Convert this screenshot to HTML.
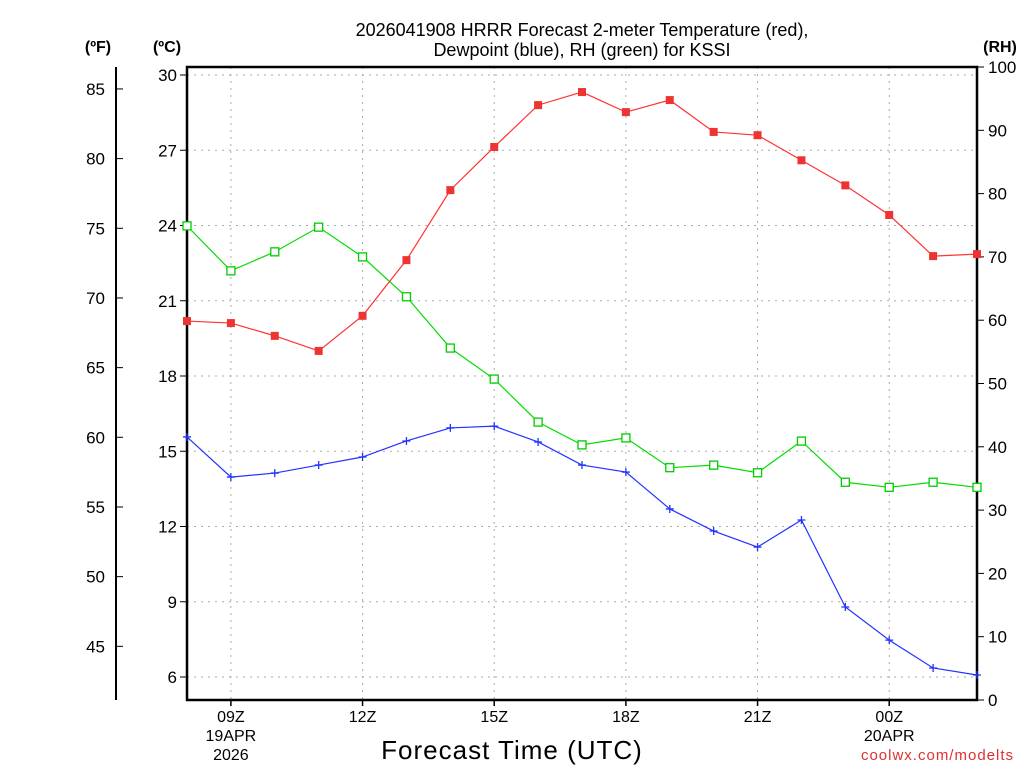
<!DOCTYPE html>
<html><head><meta charset="utf-8"><style>
html,body{margin:0;padding:0;background:#fff;}
svg{display:block;font-family:"Liberation Sans",sans-serif;}
</style></head><body>
<svg id="chart" width="1024" height="768" viewBox="0 0 1024 768" xmlns="http://www.w3.org/2000/svg">
<rect width="1024" height="768" fill="#fff"/>
<text x="582" y="36" font-size="18" text-anchor="middle">2026041908 HRRR Forecast 2-meter Temperature (red),</text>
<text x="582" y="56" font-size="18" text-anchor="middle">Dewpoint (blue), RH (green) for KSSI</text>
<text x="98" y="52" font-size="16" font-weight="bold" text-anchor="middle">(ºF)</text>
<text x="167" y="52" font-size="16" font-weight="bold" text-anchor="middle">(ºC)</text>
<text x="1000" y="52" font-size="16" font-weight="bold" text-anchor="middle">(RH)</text>
<text x="512" y="759" font-size="26" text-anchor="middle" letter-spacing="1">Forecast Time (UTC)</text>
<text x="1014" y="760" font-size="15" fill="#e03030" text-anchor="end" letter-spacing="1">coolwx.com/modelts</text>
<g id="grid"></g><g id="axes"></g><g id="series"></g>
</svg>
<script>
const hours = [8,9,10,11,12,13,14,15,16,17,18,19,20,21,22,23,24,25,26];
const tempC = [20.19,20.11,19.6,19.0,20.4,22.62,25.41,27.13,28.8,29.32,28.52,29.0,27.73,27.6,26.6,25.6,24.42,22.78,22.86];
const dewC = [15.57,13.97,14.13,14.45,14.77,15.41,15.93,16.0,15.37,14.45,14.17,12.7,11.82,11.18,12.26,8.79,7.47,6.36,6.08];
const rh = [74.9,67.8,70.8,74.7,70.0,63.7,55.6,50.7,43.9,40.3,41.4,36.7,37.1,35.9,40.9,34.4,33.6,34.4,33.6];
const cTicks = [6,9,12,15,18,21,24,27,30];
const fTicks = [45,50,55,60,65,70,75,80,85];
const rhTicks = [0,10,20,30,40,50,60,70,80,90,100];
const xTickHours = [9,12,15,18,21,24];
const xTickLabels = [["09Z","19APR","2026"],["12Z"],["15Z"],["18Z"],["21Z"],["00Z","20APR"]];

const L=187,R=977,T=67,B=700;
const xs=h=>L+(h-8)*(R-L)/18;
const yc=c=>75+(30-c)*(602/24);
const yf=f=>yc((f-32)*5/9);
const yr=r=>B-r*(B-T)/100;
const NS="http://www.w3.org/2000/svg";
function mk(parent,tag,attrs,text){const e=document.createElementNS(NS,tag);for(const k in attrs)e.setAttribute(k,attrs[k]);if(text!==undefined)e.textContent=text;parent.appendChild(e);return e;}
const grid=document.getElementById('grid'),axes=document.getElementById('axes'),series=document.getElementById('series');

xTickHours.forEach((h,i)=>{
  const g=mk(grid,'line',{x1:xs(h),x2:xs(h),y1:T,y2:B,stroke:'#aaa','stroke-dasharray':'2,5'});
  
  
  const t=mk(axes,'line',{x1:xs(h),x2:xs(h),y1:B,y2:B+6,stroke:'#000','stroke-width':1.5});
  
  
  xTickLabels[i].forEach((s,j)=>{
    const lb=mk(axes,'text',{x:xs(h),y:722+j*19,'font-size':16,'text-anchor':'middle'},s);
    
    
  });
});
cTicks.forEach(c=>{
  const g=mk(grid,'line',{x1:L,x2:R,y1:yc(c),y2:yc(c),stroke:'#aaa','stroke-dasharray':'2,5'});
  
  
  const t=mk(axes,'line',{x1:L-7,x2:L,y1:yc(c),y2:yc(c),stroke:'#000'});
  
  
  const lb=mk(axes,'text',{x:L-10,y:yc(c)+6,'font-size':17,'text-anchor':'end'},String(c));
  
  
});
fTicks.forEach(f=>{
  const t=mk(axes,'line',{x1:116,x2:123,y1:yf(f),y2:yf(f),stroke:'#000'});
  
  
  const lb=mk(axes,'text',{x:105,y:yf(f)+6,'font-size':17,'text-anchor':'end'},String(f));
  
  
});
rhTicks.forEach(r=>{
  const t=mk(axes,'line',{x1:R,x2:R+7,y1:yr(r),y2:yr(r),stroke:'#000'});
  
  
  const lb=mk(axes,'text',{x:R+11,y:yr(r)+6,'font-size':17,'text-anchor':'start'},String(r));
  
  
});
const fAxis=mk(axes,'line',{x1:116,x2:116,y1:T,y2:B,stroke:'#000','stroke-width':2});


const frame=mk(axes,'rect',{x:L,y:T,width:R-L,height:B-T,fill:'none',stroke:'#000','stroke-width':2.5});



function line(vals,yfn,color,name){
  const pts=vals.map((v,i)=>xs(hours[i])+','+yfn(v)).join(' ');
  const p=mk(series,'polyline',{points:pts,fill:'none',stroke:color,'stroke-width':1.2});
  
  
}
line(rh,yr,'#00dd00','rh');
line(dewC,yc,'#2233ff','dewpoint');
line(tempC,yc,'#ff3333','temperature');
rh.forEach((v,i)=>{
  const m=mk(series,'rect',{x:xs(hours[i])-4,y:yr(v)-4,width:8,height:8,fill:'#fff',stroke:'#00cc00','stroke-width':1.3});
  
  
});
dewC.forEach((v,i)=>{
  const x=xs(hours[i]),y=yc(v);
  const m=mk(series,'path',{d:`M${x-4},${y}H${x+4}M${x},${y-4}V${y+4}`,stroke:'#2233ff','stroke-width':1.3});
  
  
});
tempC.forEach((v,i)=>{
  const m=mk(series,'rect',{x:xs(hours[i])-4,y:yc(v)-4,width:8,height:8,fill:'#ee3333'});
  
  
});
</script>
</body></html>
